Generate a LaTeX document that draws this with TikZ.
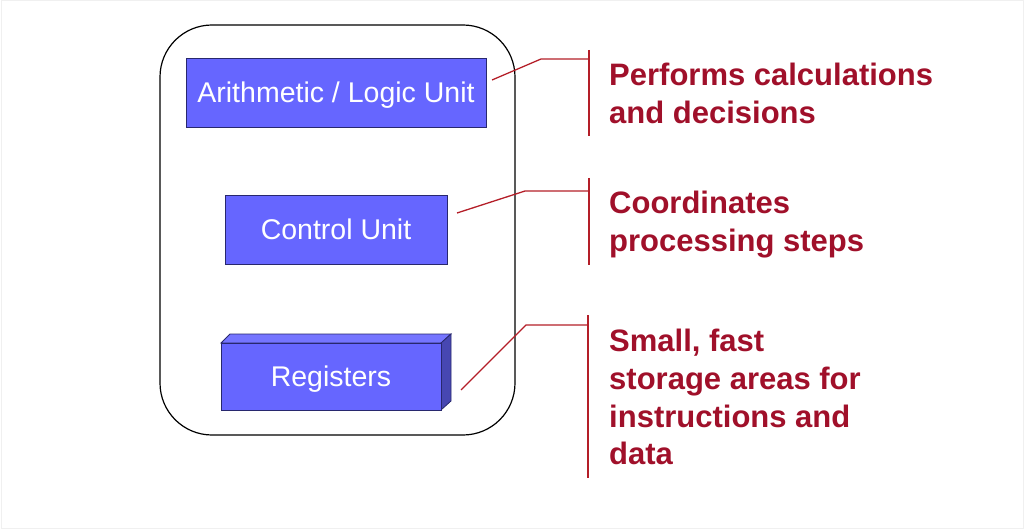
\documentclass[tikz,border=0pt]{standalone}
\usepackage{fontspec}
\setmainfont{Liberation Sans}
\usepackage{xcolor}
\usetikzlibrary{positioning, calc}
\definecolor{unitblue}{RGB}{102,102,255}
\definecolor{unitedge}{RGB}{40,40,110}
\definecolor{noteRed}{RGB}{160,16,42}
\definecolor{lineRed}{RGB}{180,30,40}
\tikzset{
    unit/.style={rectangle, draw=unitedge, line width=0.8pt, fill=unitblue, text=white, font=\fontsize{28.5}{34}\selectfont, text depth=0pt, inner sep=0pt},
    note/.style={anchor=north west, inner sep=0pt, align=left, text=noteRed, font=\fontsize{31}{37.7}\selectfont\bfseries},
    leader/.style={draw=lineRed, line width=1.3pt},
    brace/.style={draw=lineRed, line width=1.3pt},
}

\begin{document}
\begin{tikzpicture}[x=1pt, y=-1pt]
    \useasboundingbox (0,0) rectangle (1024,529);
    \draw[black!6, line width=1pt] (1,1) rectangle (1023,528);

    % the processor
    \node[draw=black, line width=1.2pt, rounded corners=52pt, minimum width=355pt, minimum height=410pt, inner sep=0pt] (cpu) at (337.5,230) {};

    % its units
    \node[unit, minimum width=300pt, minimum height=69pt] (alu) at (336,92.5) {Arithmetic / Logic Unit};
    \node[unit, minimum width=222pt, minimum height=69pt] (cu) at (336,229.5) {Control Unit};
    \fill[unitblue!90!white, draw=unitedge, line width=0.8pt] (221,343) -- (230,334) -- (451,334) -- (441,343) -- cycle;
    \fill[unitblue!70!black, draw=unitedge, line width=0.8pt] (441,343) -- (451,334) -- (451,401) -- (441,410) -- cycle;
    \node[unit, minimum width=220pt, minimum height=67pt] (reg) at (331,376.5) {Registers};

    % notes
    \node[note] (aluNote) at (609,63) {Performs calculations\\and decisions};
    \node[note] (cuNote) at (609,191) {Coordinates\\processing steps};
    \node[note] (regNote) at (609,329) {Small, fast\\storage areas for\\instructions and\\data};

    % leaders
    \coordinate (aluA) at (492,80);
    \coordinate (aluB) at (541,59);
    \coordinate (aluC) at (589,59);
    \coordinate (aluTop) at (589,50);
    \coordinate (aluBot) at (589,136);
    \coordinate (cuA) at (457,213);
    \coordinate (cuB) at (525,191);
    \coordinate (cuC) at (589,191);
    \coordinate (cuTop) at (589,178);
    \coordinate (cuBot) at (589,265);
    \coordinate (regA) at (461,390);
    \coordinate (regB) at (526,325);
    \coordinate (regC) at (588,325);
    \coordinate (regTop) at (588,315);
    \coordinate (regBot) at (588,478);

    \draw[leader] (aluA) -- (aluB) -- (aluC);
    \draw[brace] (aluTop) -- (aluBot);
    \draw[leader] (cuA) -- (cuB) -- (cuC);
    \draw[brace] (cuTop) -- (cuBot);
    \draw[leader] (regA) -- (regB) -- (regC);
    \draw[brace] (regTop) -- (regBot);
\end{tikzpicture}
\end{document}
